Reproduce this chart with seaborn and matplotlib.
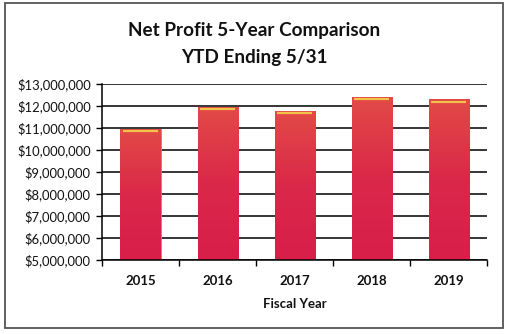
import numpy as np
import pandas as pd
import matplotlib
matplotlib.use("Agg")
import matplotlib.pyplot as plt
from matplotlib.colors import LinearSegmentedColormap
from matplotlib.patches import Rectangle
from matplotlib.ticker import FuncFormatter, FixedLocator
import seaborn as sns

years = ["2015", "2016", "2017", "2018", "2019"]
net_profit = [10950000, 11950000, 11750000, 12400000, 12280000]
y_ticks = [5000000, 6000000, 7000000, 8000000, 9000000, 10000000, 11000000, 12000000, 13000000]

sns.set_theme(style="white")
plt.rcParams["font.family"] = ["Lato", "DejaVu Sans"]

df = pd.DataFrame({"year": years, "profit": net_profit})

fig = plt.figure(figsize=(5.08, 3.34), dpi=100)
ax = fig.add_axes([0.2008, 0.2216, 0.758, 0.527])

sns.barplot(data=df, x="year", y="profit", color="#D8204A", width=0.52,
            edgecolor="#E07A50", linewidth=0.6, ax=ax, zorder=3)

ymin, ymax = y_ticks[0], y_ticks[-1]
ax.set_ylim(ymin, ymax)
ax.set_xlim(-0.5, len(years) - 0.5)
ax.yaxis.set_major_locator(FixedLocator(y_ticks))
ax.yaxis.set_major_formatter(FuncFormatter(lambda v, p: f"${v:,.0f}"))

# gradient fill over the visible part of each bar, plus a thin highlight near the top
cmap = LinearSegmentedColormap.from_list("barfill", ["#D81E4A", "#DA2849", "#E24A46"])
grad = np.linspace(0, 1, 256).reshape(-1, 1)
for bar in ax.patches:
    x0, w, h = bar.get_x(), bar.get_width(), bar.get_height()
    top = bar.get_y() + h
    bottom = max(bar.get_y(), ymin)
    ax.imshow(grad, extent=(x0, x0 + w, bottom, top), origin="lower",
              cmap=cmap, aspect="auto", zorder=3.5)
    ax.plot([x0 + w * 0.06, x0 + w * 0.94], [top - 90000, top - 90000],
            color="#F2C24A", lw=1.6, zorder=4, solid_capstyle="butt")
ax.set_xlim(-0.5, len(years) - 0.5)
ax.set_ylim(ymin, ymax)

ax.grid(axis="y", color="black", linewidth=1.1, zorder=0)
ax.set_axisbelow(True)
for side in ["top", "right"]:
    ax.spines[side].set_visible(False)
for side in ["left", "bottom"]:
    ax.spines[side].set_color("black")
    ax.spines[side].set_linewidth(1.1)
    ax.spines[side].set_zorder(5)

ax.set_xticks(range(len(years)))
ax.set_xticklabels(years, fontweight="bold")
ax.set_xticks(np.arange(-0.5, len(years), 1.0), minor=True)
ax.tick_params(axis="x", which="major", length=0, pad=11, labelsize=9.5, labelcolor="#111111")
ax.tick_params(axis="x", which="minor", length=4, width=1.0, direction="out", color="black", bottom=True)
ax.tick_params(axis="y", length=4, width=1.0, direction="out", color="black", left=True,
               pad=4, labelsize=9.4, labelcolor="#111111")

ax.set_ylabel("")
ax.set_xlabel("Fiscal Year", labelpad=8)
ax.xaxis.label.set_fontsize(9.5)
ax.xaxis.label.set_fontweight("bold")
ax.xaxis.label.set_color("#111111")

fig.text(0.5, 0.91, "Net Profit 5-Year Comparison", ha="center", va="center",
         fontsize=13.6, fontweight="bold", color="#111111")
fig.text(0.5, 0.827, "YTD Ending 5/31", ha="center", va="center",
         fontsize=13.6, fontweight="bold", color="#111111")

# outer chart frame
fig.patches.append(Rectangle((0.009, 0.018), 0.982, 0.972, transform=fig.transFigure,
                             fill=False, edgecolor="#555555", linewidth=1.3))

fig.savefig("out.png", dpi=100)
